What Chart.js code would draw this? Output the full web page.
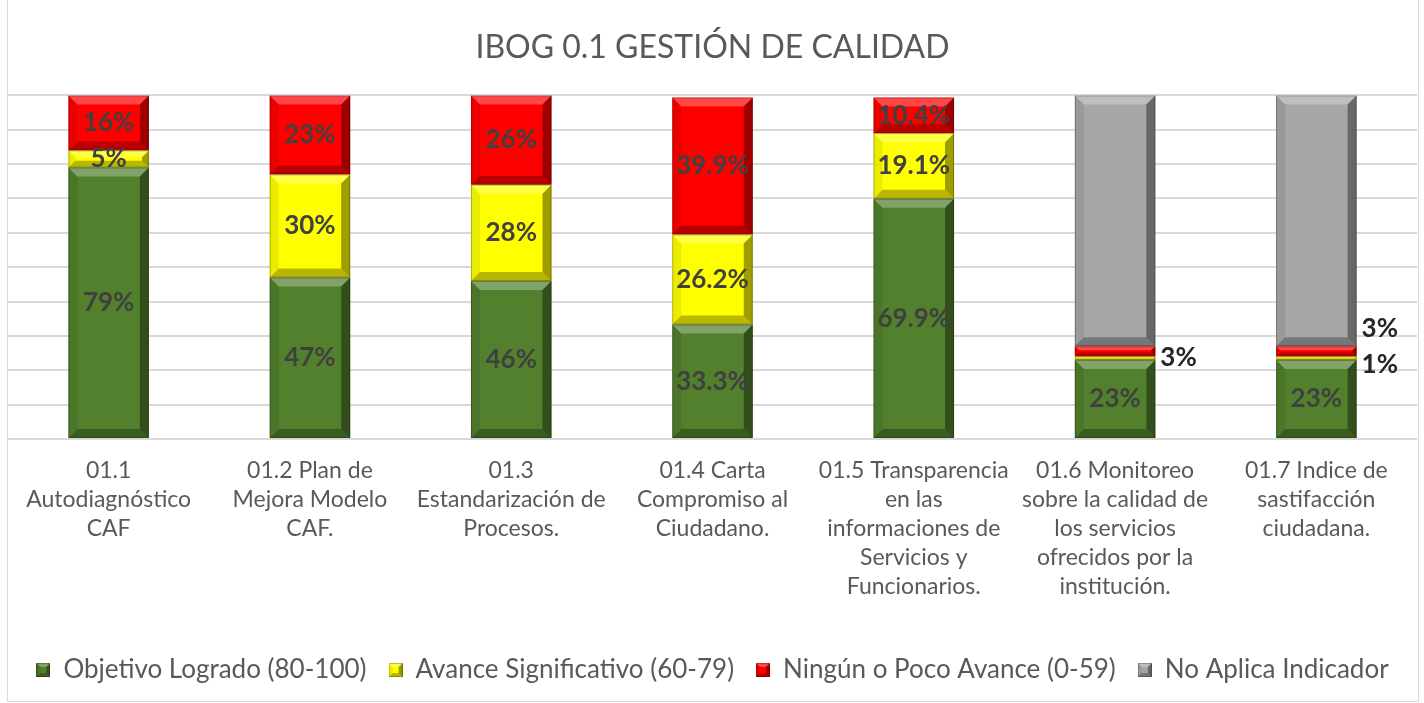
<!DOCTYPE html>
<html>
<head>
<meta charset="utf-8">
<script src="https://cdn.jsdelivr.net/npm/chart.js@4"></script>
<style>
  body { margin: 0; background: #fff; }
  .wrap { position: relative; width: 1424px; height: 703px; }
  .frame { position: absolute; left: 7px; top: 0; width: 1410px; height: 701px; border: 1px solid #d9d9d9; border-top: none; pointer-events: none; }
</style>
</head>
<body>
<div class="wrap">
  <canvas id="chart" width="1424" height="703"></canvas>
  <div class="frame"></div>
</div>
<script>
const categories = [
  ['01.1', 'Autodiagnóstico', 'CAF'],
  ['01.2 Plan de', 'Mejora Modelo', 'CAF.'],
  ['01.3', 'Estandarización de', 'Procesos.'],
  ['01.4 Carta', 'Compromiso al', 'Ciudadano.'],
  ['01.5 Transparencia', 'en las', 'informaciones de', 'Servicios y', 'Funcionarios.'],
  ['01.6 Monitoreo', 'sobre la calidad de', 'los servicios', 'ofrecidos por la', 'institución.'],
  ['01.7 Indice de', 'sastifacción', 'ciudadana.']
];
const logrado = [79, 47, 46, 33.3, 69.9, 23, 23];
const avance = [5, 30, 28, 26.2, 19.1, 1, 1];
const ninguno = [16, 23, 26, 39.9, 10.4, 3, 3];
const noAplica = [0, 0, 0, 0, 0, 73, 73];
// which yellow labels Excel shows (01.6 has none)
const avanceEtiqueta = [true, true, true, true, true, false, true];

const colors = ['#52802d', '#ffff00', '#ff0000', '#a6a6a6'];
const textColor = '#595959';
const labelColor = '#404040';
const fontFam = 'Lato, "Open Sans", sans-serif';

function poly(ctx, pts, fill) {
  ctx.beginPath();
  ctx.moveTo(pts[0][0], pts[0][1]);
  for (let i = 1; i < pts.length; i++) ctx.lineTo(pts[i][0], pts[i][1]);
  ctx.closePath();
  ctx.fillStyle = fill;
  ctx.fill();
}

function bevel(ctx, L, T, R, B, b) {
  poly(ctx, [[L, T], [R, T], [R - b, T + b], [L + b, T + b]], 'rgba(255,255,255,0.28)');
  poly(ctx, [[L, T], [L + b, T + b], [L + b, B - b], [L, B]], 'rgba(0,0,0,0.08)');
  poly(ctx, [[R, T], [R, B], [R - b, B - b], [R - b, T + b]], 'rgba(0,0,0,0.38)');
  poly(ctx, [[L, B], [R, B], [R - b, B - b], [L + b, B - b]], 'rgba(0,0,0,0.28)');
  ctx.strokeStyle = 'rgba(0,0,0,0.25)';
  ctx.lineWidth = 1;
  ctx.strokeRect(L + 0.5, T + 0.5, R - L - 1, B - T - 1);
}

// small bevelled squares for the legend
function legendSwatch(color) {
  const c = document.createElement('canvas');
  c.width = 14; c.height = 14;
  const g = c.getContext('2d');
  g.fillStyle = color;
  g.fillRect(0, 0, 14, 14);
  bevel(g, 0, 0, 14, 14, 4);
  return c;
}

const bevelPlugin = {
  id: 'bevel',
  afterDatasetsDraw(chart) {
    const ctx = chart.ctx;
    ctx.save();
    chart.data.datasets.forEach((ds, di) => {
      const meta = chart.getDatasetMeta(di);
      meta.data.forEach((bar, i) => {
        if (!ds.data[i]) return;
        const p = bar.getProps(['x', 'y', 'base', 'width'], true);
        const L = p.x - p.width / 2, R = p.x + p.width / 2;
        const T = Math.min(p.y, p.base), B = Math.max(p.y, p.base);
        const b = Math.min(9, (B - T) / 2.5);
        bevel(ctx, L, T, R, B, b);
      });
    });
    ctx.restore();
  }
};

const labelPlugin = {
  id: 'valueLabels',
  afterDatasetsDraw(chart) {
    const ctx = chart.ctx;
    ctx.save();
    ctx.font = 'bold 26px ' + fontFam;
    ctx.textBaseline = 'middle';
    const outside = {};
    [0, 1, 2].forEach(di => {
      const ds = chart.data.datasets[di];
      const meta = chart.getDatasetMeta(di);
      meta.data.forEach((bar, i) => {
        const v = ds.data[i];
        if (!v) return;
        if (di === 1 && !avanceEtiqueta[i]) return;
        const p = bar.getProps(['x', 'y', 'base', 'width'], true);
        const cy = (p.y + p.base) / 2;
        const txt = v + '%';
        if (v < 4) {
          let y = cy + 6;
          if (outside[i] !== undefined && Math.abs(outside[i] - y) < 28) y = outside[i] - 36;
          outside[i] = y;
          ctx.textAlign = 'left';
          ctx.fillStyle = '#262626';
          ctx.fillText(txt, p.x + p.width / 2 + 5, y);
        } else {
          ctx.textAlign = 'center';
          ctx.fillStyle = labelColor;
          ctx.fillText(txt, p.x, cy);
        }
      });
    });
    ctx.restore();
  }
};

const seriesNames = ['Objetivo Logrado (80-100)', 'Avance Significativo (60-79)', 'Ningún o Poco Avance (0-59)', 'No Aplica Indicador'];
const seriesData = [logrado, avance, ninguno, noAplica];

new Chart(document.getElementById('chart'), {
  type: 'bar',
  data: {
    labels: categories,
    datasets: seriesData.map((d, k) => ({
      label: seriesNames[k],
      data: d,
      backgroundColor: colors[k],
      borderWidth: 0,
      categoryPercentage: 1,
      barPercentage: 0.4,
      pointStyle: legendSwatch(colors[k])
    }))
  },
  options: {
    responsive: false,
    animation: false,
    layout: { padding: { left: 8, right: 7, top: 0, bottom: 10 } },
    plugins: {
      title: {
        display: true,
        text: 'IBOG 0.1 GESTIÓN DE CALIDAD',
        color: textColor,
        font: { family: fontFam, size: 32, weight: 'normal' },
        padding: { top: 28, bottom: 29 }
      },
      legend: {
        position: 'bottom',
        labels: {
          usePointStyle: true,
          boxWidth: 14,
          boxHeight: 14,
          color: textColor,
          font: { family: fontFam, size: 26 },
          padding: 22
        }
      },
      tooltip: { enabled: false }
    },
    scales: {
      x: {
        stacked: true,
        grid: { display: false },
        border: { display: false },
        ticks: {
          color: textColor,
          font: { family: fontFam, size: 23, lineHeight: 1.26 },
          padding: 9,
          maxRotation: 0,
          autoSkip: false
        },
        afterFit(axis) { axis.height = 196; }
      },
      y: {
        stacked: true,
        min: 0,
        max: 100,
        ticks: { display: false, stepSize: 10 },
        border: { display: false },
        grid: { color: '#d9d9d9', lineWidth: 2, drawTicks: false }
      }
    }
  },
  plugins: [bevelPlugin, labelPlugin]
});
</script>
</body>
</html>
